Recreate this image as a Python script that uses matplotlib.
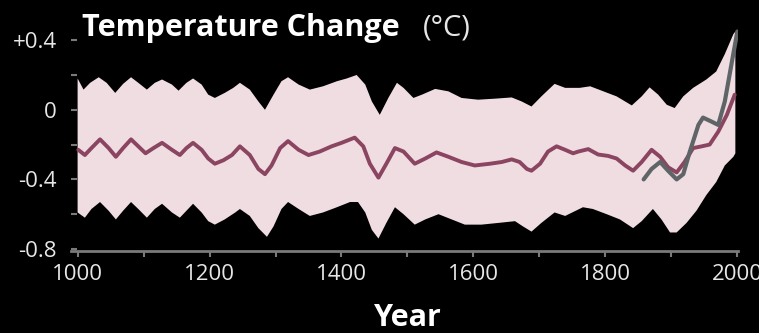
import matplotlib.pyplot as plt

# reconstruction (mean line)
mean_years = [1001, 1011, 1021, 1034, 1047, 1058, 1069, 1081, 1092, 1103, 1115, 1128,
              1143, 1155, 1165, 1175, 1188, 1198, 1208, 1221, 1234, 1246, 1261, 1274,
              1284, 1294, 1307, 1319, 1335, 1350, 1367, 1385, 1400, 1420, 1433, 1443,
              1456, 1468, 1481, 1494, 1511, 1527, 1544, 1562, 1582, 1602, 1625, 1643,
              1658, 1670, 1681, 1688, 1701, 1713, 1726, 1739, 1751, 1759, 1774, 1789,
              1804, 1817, 1830, 1842, 1855, 1870, 1883, 1895, 1908, 1920, 1933, 1946,
              1958, 1971, 1984, 1996]
mean = [-0.23, -0.26, -0.22, -0.17, -0.22, -0.27, -0.22, -0.17, -0.21, -0.25, -0.22, -0.19,
        -0.23, -0.26, -0.22, -0.19, -0.23, -0.28, -0.31, -0.29, -0.26, -0.21, -0.26, -0.34,
        -0.37, -0.32, -0.22, -0.18, -0.23, -0.26, -0.24, -0.21, -0.19, -0.16, -0.21, -0.31,
        -0.39, -0.31, -0.22, -0.24, -0.31, -0.28, -0.245, -0.27, -0.30, -0.32, -0.31, -0.30,
        -0.285, -0.30, -0.34, -0.35, -0.31, -0.24, -0.21, -0.23, -0.25, -0.24, -0.226, -0.257,
        -0.265, -0.28, -0.32, -0.35, -0.30, -0.23, -0.27, -0.33, -0.36, -0.30, -0.22, -0.21,
        -0.20, -0.126, -0.03, 0.087]

# upper edge of the uncertainty band
upper_years = [1000, 1009, 1019, 1032, 1044, 1057, 1069, 1081, 1092, 1105, 1117, 1128,
               1143, 1153, 1165, 1175, 1188, 1198, 1208, 1223, 1236, 1246, 1261, 1274,
               1284, 1297, 1309, 1319, 1335, 1352, 1372, 1393, 1408, 1423, 1436, 1446,
               1458, 1471, 1484, 1494, 1509, 1522, 1542, 1562, 1582, 1607, 1633, 1658,
               1673, 1688, 1703, 1723, 1739, 1761, 1777, 1797, 1817, 1840, 1855, 1867,
               1880, 1893, 1905, 1918, 1933, 1953, 1968, 1981, 1994, 1997]
upper = [0.18, 0.116, 0.155, 0.187, 0.155, 0.097, 0.149, 0.187, 0.155, 0.116, 0.155, 0.174,
         0.145, 0.11, 0.155, 0.18, 0.145, 0.087, 0.068, 0.097, 0.126, 0.155, 0.116, 0.048,
         0.0, 0.087, 0.164, 0.187, 0.145, 0.116, 0.135, 0.164, 0.18, 0.20, 0.145, 0.048,
         -0.029, 0.068, 0.155, 0.126, 0.068, 0.087, 0.12, 0.106, 0.068, 0.058, 0.064, 0.071,
         0.048, 0.019, 0.077, 0.149, 0.126, 0.126, 0.135, 0.106, 0.077, 0.025, 0.077, 0.129,
         0.087, 0.029, 0.01, 0.077, 0.126, 0.174, 0.22, 0.32, 0.435, 0.45]

# lower edge of the uncertainty band
lower_years = [1000, 1011, 1021, 1034, 1047, 1058, 1069, 1081, 1092, 1105, 1117, 1128,
               1143, 1155, 1165, 1175, 1188, 1198, 1208, 1223, 1239, 1246, 1261, 1274,
               1287, 1297, 1309, 1319, 1335, 1352, 1372, 1393, 1413, 1425, 1436, 1446,
               1456, 1468, 1481, 1494, 1511, 1527, 1547, 1567, 1587, 1612, 1638, 1663,
               1675, 1688, 1703, 1723, 1739, 1766, 1781, 1802, 1822, 1842, 1855, 1872,
               1885, 1898, 1908, 1923, 1938, 1953, 1968, 1981, 1994, 1997]
lower = [-0.59, -0.62, -0.57, -0.53, -0.58, -0.63, -0.58, -0.53, -0.57, -0.62, -0.57, -0.54,
         -0.59, -0.62, -0.58, -0.54, -0.59, -0.64, -0.66, -0.63, -0.59, -0.57, -0.61, -0.68,
         -0.73, -0.67, -0.57, -0.53, -0.57, -0.61, -0.59, -0.56, -0.53, -0.53, -0.59, -0.69,
         -0.74, -0.65, -0.56, -0.60, -0.66, -0.63, -0.60, -0.63, -0.66, -0.66, -0.65, -0.64,
         -0.67, -0.70, -0.65, -0.59, -0.61, -0.56, -0.57, -0.60, -0.63, -0.68, -0.64, -0.57,
         -0.63, -0.705, -0.705, -0.65, -0.58, -0.49, -0.415, -0.32, -0.27, -0.25]

# instrumental record
inst_years = [1858, 1870, 1883, 1895, 1908, 1918, 1928, 1941, 1948, 1961, 1971, 1981, 1991, 2000]
inst_vals = [-0.40, -0.34, -0.30, -0.35, -0.40, -0.37, -0.24, -0.087, -0.045, -0.068, -0.087,
             0.048, 0.26, 0.45]

xticks = [1000, 1200, 1400, 1600, 1800, 2000]
yticks = [0.4, 0.0, -0.4, -0.8]
ylabels = ['+0.4', '0', '-0.4', '-0.8']

plt.rcParams['font.family'] = ['Open Sans', 'DejaVu Sans']

fig = plt.figure(figsize=(7.59, 3.33), dpi=100, facecolor='black')
ax = fig.add_axes([71 / 759, 84 / 333, 667 / 759, 221 / 333], facecolor='black')

# band as one polygon: upper edge left to right, lower edge back
ax.fill(upper_years + lower_years[::-1], upper + lower[::-1], color='#efdde2', lw=0)
ax.plot(mean_years, mean, color='#8b4560', lw=2.8, solid_joinstyle='round', solid_capstyle='round')
ax.plot(inst_years, inst_vals, color='#5f6566', lw=3.0, solid_joinstyle='round', solid_capstyle='round')

ax.set_xlim(990, 2001)
ax.set_ylim(-0.8, 0.47)

for s in ['top', 'right', 'left']:
    ax.spines[s].set_visible(False)
ax.spines['bottom'].set_color('#7a7a7a')
ax.spines['bottom'].set_linewidth(2)
ax.spines['bottom'].set_position(('data', -0.81))

ax.set_xticks(xticks)
ax.set_xticks(range(1100, 2000, 200), minor=True)
ax.set_yticks(yticks)
ax.set_yticklabels(ylabels)
ax.set_yticks([0.2, -0.2, -0.6], minor=True)
ax.tick_params(axis='x', which='both', direction='out', length=4.5, width=1.5, color='#7a7a7a',
               labelcolor='#e6e6e6', labelsize=16, pad=5)
ax.tick_params(axis='y', which='both', direction='in', length=4.5, width=1.5, color='#7a7a7a',
               labelcolor='#e6e6e6', labelsize=16, pad=10)

fig.text(82 / 759, 1 - 36 / 333, 'Temperature Change', color='white', fontsize=22,
         fontweight='bold', va='baseline', ha='left')
fig.text(423 / 759, 1 - 36 / 333, '(°C)', color='#e6e6e6', fontsize=21, va='baseline', ha='left')
fig.text(408 / 759, 1 - 326 / 333, 'Year', color='white', fontsize=22,
         fontweight='bold', va='baseline', ha='center')

fig.savefig('out.png', dpi=100, facecolor='black')
